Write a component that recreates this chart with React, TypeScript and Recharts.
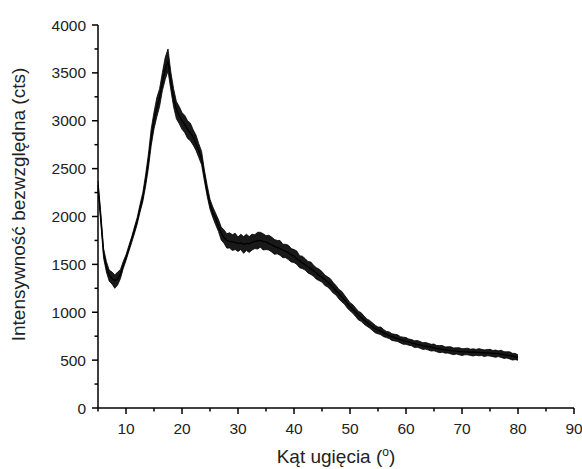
import React from "react";
import { ComposedChart, Area, Line, XAxis, YAxis } from "recharts";

// 2θ scan positions (deg)
const angles = [
  5, 5.5, 6, 6.5, 7, 7.5, 8, 8.5, 9, 9.5, 10, 10.5, 11, 11.5, 12, 12.5, 13, 13.5, 14, 14.5,
  15, 15.5, 16, 16.5, 17, 17.5, 18, 18.5, 19, 19.5, 20, 20.5, 21, 21.5, 22, 22.5, 23, 23.5, 24, 24.5,
  25, 25.5, 26, 26.5, 27, 27.5, 28, 28.5, 29, 29.5, 30, 30.5, 31, 31.5, 32, 32.5, 33, 33.5, 34, 34.5,
  35, 35.5, 36, 36.5, 37, 37.5, 38, 38.5, 39, 39.5, 40, 40.5, 41, 41.5, 42, 42.5, 43, 43.5, 44, 44.5,
  45, 45.5, 46, 46.5, 47, 47.5, 48, 48.5, 49, 49.5, 50, 50.5, 51, 51.5, 52, 52.5, 53, 53.5, 54, 54.5,
  55, 55.5, 56, 56.5, 57, 57.5, 58, 58.5, 59, 59.5, 60, 60.5, 61, 61.5, 62, 62.5, 63, 63.5, 64, 64.5,
  65, 65.5, 66, 66.5, 67, 67.5, 68, 68.5, 69, 69.5, 70, 70.5, 71, 71.5, 72, 72.5, 73, 73.5, 74, 74.5,
  75, 75.5, 76, 76.5, 77, 77.5, 78, 78.5, 79, 79.5, 80,
];

// mean intensity (cts)
const intensity = [
  2330, 1980, 1620, 1470, 1390, 1350, 1330, 1345, 1400, 1490, 1570, 1660, 1760, 1850, 1960, 2080, 2200, 2370, 2580, 2820,
  3010, 3130, 3250, 3400, 3540, 3620, 3420, 3230, 3120, 3050, 3000, 2960, 2910, 2870, 2830, 2760, 2690, 2600, 2430, 2260,
  2130, 2040, 1980, 1900, 1830, 1780, 1750, 1740, 1735, 1730, 1720, 1725, 1710, 1720, 1715, 1730, 1740, 1745, 1750, 1740,
  1735, 1720, 1705, 1690, 1675, 1665, 1650, 1635, 1620, 1600, 1585, 1560, 1535, 1515, 1495, 1475, 1455, 1430, 1410, 1385,
  1365, 1340, 1315, 1290, 1260, 1225, 1195, 1160, 1130, 1095, 1060, 1030, 1000, 970, 945, 920, 895, 870, 850, 830,
  815, 800, 785, 770, 755, 745, 735, 725, 715, 705, 695, 690, 680, 672, 665, 660, 652, 645, 640, 635,
  628, 622, 618, 612, 608, 604, 600, 597, 594, 590, 588, 586, 585, 584, 583, 582, 580, 578, 577, 575,
  573, 571, 570, 567, 563, 558, 552, 547, 541, 535, 530,
];

// noise above / below the mean (cts)
const noiseUp = [
  40, 55, 45, 60, 50, 70, 60, 75, 45, 40, 30, 35, 25, 40, 30, 45, 50, 65, 70, 95,
  80, 110, 85, 105, 120, 130, 90, 105, 80, 100, 85, 95, 90, 105, 75, 90, 70, 80, 55, 65,
  50, 60, 55, 70, 60, 80, 70, 90, 75, 95, 65, 90, 80, 95, 75, 85, 70, 90, 85, 80,
  65, 85, 80, 70, 75, 85, 60, 75, 80, 65, 70, 80, 55, 70, 65, 55, 70, 60, 55, 65,
  60, 50, 55, 60, 50, 55, 45, 60, 50, 45, 40, 50, 45, 40, 50, 40, 35, 45, 40, 35,
  30, 45, 35, 30, 40, 30, 35, 40, 30, 35, 40, 30, 35, 30, 40, 35, 30, 40, 35, 30,
  40, 30, 35, 40, 30, 35, 40, 30, 35, 40, 30, 35, 40, 30, 35, 30, 40, 35, 30, 35,
  40, 30, 35, 30, 40, 30, 35, 40, 30, 35, 25,
];

const noiseDown = [
  40, 45, 55, 50, 65, 55, 80, 60, 50, 35, 30, 25, 35, 30, 40, 35, 45, 55, 75, 80,
  95, 90, 100, 85, 110, 100, 95, 85, 100, 80, 90, 85, 95, 80, 85, 70, 75, 60, 60, 50,
  55, 50, 65, 55, 75, 60, 80, 70, 90, 75, 85, 70, 95, 75, 90, 80, 75, 85, 70, 90,
  80, 70, 75, 85, 65, 70, 80, 65, 70, 75, 65, 60, 70, 60, 55, 65, 60, 55, 65, 55,
  50, 60, 50, 55, 60, 45, 55, 50, 45, 50, 45, 40, 45, 50, 40, 45, 40, 35, 40, 45,
  40, 35, 40, 35, 30, 40, 35, 30, 35, 40, 30, 35, 30, 40, 30, 35, 40, 30, 35, 40,
  30, 35, 40, 30, 35, 30, 35, 40, 30, 35, 40, 30, 30, 35, 40, 30, 35, 30, 40, 30,
  30, 35, 40, 30, 35, 40, 30, 35, 40, 30, 30,
];

const xTicks = [5, 10, 15, 20, 25, 30, 35, 40, 45, 50, 55, 60, 65, 70, 75, 80, 85, 90];
const yTicks = [0, 250, 500, 750, 1000, 1250, 1500, 1750, 2000, 2250, 2500, 2750, 3000, 3250, 3500, 3750, 4000];

const data = angles.map((a, i) => ({
  angle: a,
  value: intensity[i],
  band: [intensity[i] - noiseDown[i], intensity[i] + noiseUp[i]],
}));

const FONT = "'Liberation Sans', Arial, sans-serif";

const XTick = ({ x, y, payload }: any) => {
  const major = payload.value % 10 === 0;
  return (
    <g>
      <line x1={x} x2={x} y1={y} y2={y + (major ? 6 : 3.5)} stroke="#000" strokeWidth={1.5} />
      {major && payload.value !== 5 && (
        <text x={x} y={y + 26} textAnchor="middle" fontSize={15.5} fontFamily={FONT} fill="#222">
          {payload.value}
        </text>
      )}
    </g>
  );
};

const YTick = ({ x, y, payload }: any) => {
  const major = payload.value % 500 === 0;
  return (
    <g>
      <line x1={x} x2={x - (major ? 6 : 3.5)} y1={y} y2={y} stroke="#000" strokeWidth={1.5} />
      {major && (
        <text x={x - 12} y={y + 5.5} textAnchor="end" fontSize={15.5} fontFamily={FONT} fill="#222">
          {payload.value}
        </text>
      )}
    </g>
  );
};

export default function App() {
  return (
    <div style={{ position: "absolute", left: 0, top: 0, background: "#fff" }}>
      <ComposedChart
        width={582}
        height={469}
        data={data}
        margin={{ top: 25, right: 8, bottom: 11, left: 38 }}
      >
        <XAxis
          dataKey="angle"
          type="number"
          domain={[5, 90]}
          ticks={xTicks}
          interval={0}
          tickSize={0}
          tickMargin={0}
          tick={<XTick />}
          height={50}
          axisLine={{ stroke: "#000", strokeWidth: 1.5 }}
          label={{
            content: ({ viewBox }: any) => (
              <text
                x={viewBox.x + viewBox.width / 2}
                y={viewBox.y + 55}
                textAnchor="middle"
                fontSize={19}
                fontFamily={FONT}
                fill="#222"
              >
                Kąt ugięcia (
                <tspan fontSize={12} dy={-7}>o</tspan>
                <tspan dy={7}>)</tspan>
              </text>
            ),
          }}
        />
        <YAxis
          type="number"
          domain={[0, 4000]}
          ticks={yTicks}
          interval={0}
          tickSize={0}
          tickMargin={0}
          tick={<YTick />}
          width={60}
          axisLine={{ stroke: "#000", strokeWidth: 1.5 }}
          label={{
            content: ({ viewBox }: any) => {
              const cx = viewBox.x - 13;
              const cy = viewBox.y + viewBox.height / 2 - 12;
              return (
                <text
                  x={cx}
                  y={cy}
                  transform={`rotate(-90 ${cx} ${cy})`}
                  textAnchor="middle"
                  fontSize={19}
                  fontFamily={FONT}
                  fill="#222"
                >
                  Intensywność bezwzględna (cts)
                </text>
              );
            },
          }}
        />
        <Area
          dataKey="band"
          type="linear"
          fill="#000"
          fillOpacity={0.9}
          stroke="#000"
          strokeWidth={0.8}
          isAnimationActive={false}
        />
        <Line
          dataKey="value"
          type="linear"
          stroke="#000"
          strokeWidth={1.3}
          dot={false}
          isAnimationActive={false}
        />
      </ComposedChart>
    </div>
  );
}
